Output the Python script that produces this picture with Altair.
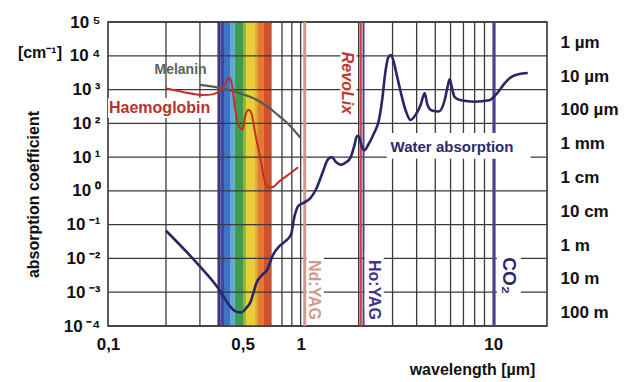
import json
import altair as alt
import pandas as pd

FONT = "Liberation Sans"

# ---------------- data ----------------
water_wl = [0.20, 0.30, 0.37, 0.40, 0.43, 0.46, 0.49, 0.52, 0.55, 0.57, 0.59, 0.63, 0.67, 0.72,
            0.77, 0.83, 0.89, 0.93, 0.97, 1.04, 1.12, 1.20, 1.30, 1.38, 1.45, 1.53, 1.62, 1.72,
            1.82, 1.90, 1.96, 2.01, 2.08, 2.14, 2.25, 2.40, 2.55, 2.65, 2.75, 2.85, 2.94, 3.05,
            3.15, 3.30, 3.50, 3.72, 3.95, 4.20, 4.40, 4.55, 4.80, 5.20, 5.60, 5.80, 5.94, 6.10,
            6.30, 6.80, 8.00, 9.50, 10.5, 11.5, 12.5, 13.5, 15.1]
water_abs = [0.066, 0.0058, 0.0014, 7.0e-4, 3.8e-4, 2.7e-4, 2.5e-4, 3.3e-4, 5.2e-4, 1.0e-3, 1.9e-3, 3.2e-3, 4.6e-3, 0.013,
             0.022, 0.032, 0.05, 0.18, 0.35, 0.45, 0.6, 1.1, 3.5, 8.3, 10, 7, 5.9, 7,
             10, 22, 42, 40, 20, 16, 24, 50, 126, 500, 3160, 8900, 10500, 6300,
             2800, 890, 250, 126, 178, 355, 794, 355, 240, 224, 500, 1260, 2000, 1120,
             600, 480, 437, 480, 794, 1580, 2400, 2820, 3090]

melanin_wl = [0.30, 0.38, 0.48, 0.55, 0.62, 0.70, 0.76, 0.83, 0.89, 0.95, 1.00]
melanin_abs = [1380, 1120, 794, 600, 427, 263, 178, 117, 79, 52, 37]

hb_wl = [0.20, 0.245, 0.31, 0.35, 0.38, 0.41, 0.425, 0.44, 0.455, 0.475, 0.50, 0.515, 0.535,
         0.555, 0.58, 0.62, 0.65, 0.68, 0.72, 0.76, 0.86, 0.97]
hb_abs = [1070, 850, 690, 720, 930, 1580, 2290, 1410, 316, 89, 66, 158, 251,
          200, 52, 8.3, 2.0, 1.26, 1.3, 1.74, 2.95, 5.0]

# visible spectrum band
band_start = [0.37, 0.383, 0.40, 0.43, 0.455, 0.50, 0.52, 0.58, 0.60, 0.645]
band_end = [0.383, 0.40, 0.43, 0.455, 0.50, 0.52, 0.58, 0.60, 0.645, 0.70]
band_color = ["#45307f", "#3b49a0", "#3f74c4", "#62a6d9", "#3c9d52", "#87b93c",
              "#e9cd3a", "#e8a834", "#e27a2f", "#d2512a"]

# laser lines
laser_names = ["Nd:YAG", "RevoLix", "Ho:YAG", "CO2"]
laser_wl = [1.05, 2.05, 2.12, 10.1]
laser_color = ["#cf9a8e", "#c8423c", "#4a3f95", "#4a4590"]
laser_width = [3, 2.2, 2, 3]

# grid & ticks
x_grid = [0.2, 0.3, 0.4, 0.5, 0.6, 0.7, 0.8, 0.9, 1, 2, 3, 4, 5, 6, 7, 8, 9, 10]
y_grid = [1e-4, 1e-3, 1e-2, 1e-1, 1, 1e1, 1e2, 1e3, 1e4, 1e5]
x_tick_values = [0.1, 0.5, 1, 10]
x_tick_labels = ["0,1", "0,5", "1", "10"]
y_tick_labels = ["10\u2009\u207b\u2074", "10\u2009\u207b\u00b3", "10\u2009\u207b\u00b2", "10\u2009\u207b\u00b9",
                 "10\u2009\u2070", "10\u2009\u00b9", "10\u2009\u00b2", "10\u2009\u00b3", "10\u2009\u2074",
                 "10\u2009\u2075"]
depth_pos = [25000, 2500, 250, 25, 2.5, 0.25, 0.025, 0.0025, 0.00025]
depth_labels = ["1 µm", "10 µm", "100 µm", "1 mm", "1 cm", "10 cm", "1 m", "10 m", "100 m"]

# white label backgrounds (x, x2, y, y2)
box_x = [0.1, 1.61, 2.8, 1.075, 2.15, 10.45]
box_x2 = [0.36, 1.95, 15.6, 1.32, 2.7, 13.9]
box_y = [145, 126, 8.9, 3e-4, 3e-4, 4e-4]
box_y2 = [560, 29500, 52, 0.018, 0.018, 0.03]

# ---------------- chart ----------------
xs = alt.Scale(type="log", domain=[0.1, 19], nice=False)
ys = alt.Scale(type="log", domain=[1e-4, 1e5], nice=False)

x_axis = alt.Axis(values=x_tick_values,
                  labelExpr=f"{json.dumps(x_tick_labels)}[indexof({json.dumps(x_tick_values)}, datum.value)]",
                  grid=False, ticks=False, domain=False, labelFlush=False,
                  labelFont=FONT, labelFontSize=17, labelFontWeight="bold", labelColor="#111",
                  labelPadding=10,
                  title="wavelength [µm]", titleFont=FONT, titleFontSize=16, titleFontWeight="bold",
                  titleColor="#111", titleX=364, titleY=35, titleAlign="center", titleBaseline="top")

y_axis_left = alt.Axis(values=y_grid,
                       labelExpr=f"{json.dumps(y_tick_labels, ensure_ascii=False)}[round(log(datum.value)/LN10)+4]",
                       grid=False, ticks=False, domain=False,
                       labelFont=FONT, labelFontSize=17, labelFontWeight="bold", labelColor="#111",
                       labelPadding=8,
                       title="absorption coefficient", titleFont=FONT, titleFontSize=16,
                       titleFontWeight="bold", titleColor="#111", titleX=-75, titleY=172,
                       titleAngle=270, titleAlign="center", titleBaseline="middle")

y_axis_right = alt.Axis(orient="right", values=depth_pos,
                        labelExpr=f"{json.dumps(depth_labels, ensure_ascii=False)}[indexof({json.dumps(depth_pos)}, datum.value)]",
                        grid=False, ticks=False, domain=False,
                        labelFont=FONT, labelFontSize=17, labelFontWeight="bold", labelColor="#111",
                        labelPadding=13, title="")

band = alt.Chart(pd.DataFrame({"x": band_start, "x2": band_end, "c": band_color})).mark_rect().encode(
    x=alt.X("x:Q", scale=xs, axis=None), x2="x2:Q",
    color=alt.Color("c:N", scale=None))

vgrid = alt.Chart(pd.DataFrame({"x": x_grid})).mark_rule(color="#3a3a3a", strokeWidth=1.3).encode(
    x=alt.X("x:Q", scale=xs, axis=x_axis))

hgrid = alt.Chart(pd.DataFrame({"y": y_grid})).mark_rule(color="#3a3a3a", strokeWidth=1.3).encode(
    y=alt.Y("y:Q", scale=ys, axis=y_axis_left))

right_ax = alt.Chart(pd.DataFrame({"y": depth_pos})).mark_rule(opacity=0).encode(
    y=alt.Y("y:Q", scale=ys, axis=y_axis_right))

lasers = alt.Chart(pd.DataFrame({"x": laser_wl, "c": laser_color, "w": laser_width})).mark_rule().encode(
    x=alt.X("x:Q", scale=xs, axis=None),
    color=alt.Color("c:N", scale=None),
    strokeWidth=alt.StrokeWidth("w:Q", scale=None))

boxes = alt.Chart(pd.DataFrame({"x": box_x, "x2": box_x2, "y": box_y, "y2": box_y2})).mark_rect(
    color="white").encode(
    x=alt.X("x:Q", scale=xs, axis=None), x2="x2:Q",
    y=alt.Y("y:Q", scale=ys, axis=None), y2="y2:Q")


def curve(wl, ab, color, width):
    return alt.Chart(pd.DataFrame({"x": wl, "y": ab})).mark_line(
        color=color, strokeWidth=width, interpolate="monotone").encode(
        x=alt.X("x:Q", scale=xs, axis=None),
        y=alt.Y("y:Q", scale=ys, axis=None))


water = curve(water_wl, water_abs, "#2a2566", 2.6)
melanin = curve(melanin_wl, melanin_abs, "#575c51", 2.2)
hb = curve(hb_wl, hb_abs, "#c0302b", 2.0)


def label(text, x, y, color, size, angle=0, align="center", style="normal", dx=0, dy=0):
    return alt.Chart(pd.DataFrame({"x": [x], "y": [y], "t": [text]})).mark_text(
        font=FONT, fontSize=size, fontWeight="bold", fontStyle=style, color=color,
        angle=angle, align=align, baseline="middle", dx=dx, dy=dy).encode(
        x=alt.X("x:Q", scale=xs, axis=None),
        y=alt.Y("y:Q", scale=ys, axis=None),
        text="t:N")


labels = [
    label("Melanin", 0.238, 3800, "#5d6258", 14),
    label("Haemoglobin", 0.1, 288, "#b8312c", 16, align="left", dx=1),
    label("Water absorption", 2.93, 20, "#2d2a6c", 15, align="left"),
    label("RevoLix", 1.75, 1570, "#c0392f", 16, angle=90, style="italic"),
    label("Nd:YAG", 1.168, 0.00117, "#cf9a8e", 16, angle=90),
    label("Ho:YAG", 2.39, 0.00117, "#3d3590", 16, angle=90),
    label("CO\u2082", 12.0, 0.0031, "#2d2a6c", 19, angle=90),
    label("[cm\u207b\u00b9]", 0.1, 1e4, "#111111", 16, align="right", dx=-46, dy=-3),
]

chart = alt.layer(vgrid, band, hgrid, right_ax, lasers, boxes, water, melanin, hb, *labels).resolve_axis(
    x="independent", y="independent").properties(
    width=439, height=304,
    padding={"left": 100, "top": 14, "right": 80, "bottom": 54},
    autosize=alt.AutoSizeParams(type="none"),
    background="white",
).configure_view(stroke="#333333", strokeWidth=1.6)

chart.save("out.html", embed_options={"renderer": "svg", "actions": False})
